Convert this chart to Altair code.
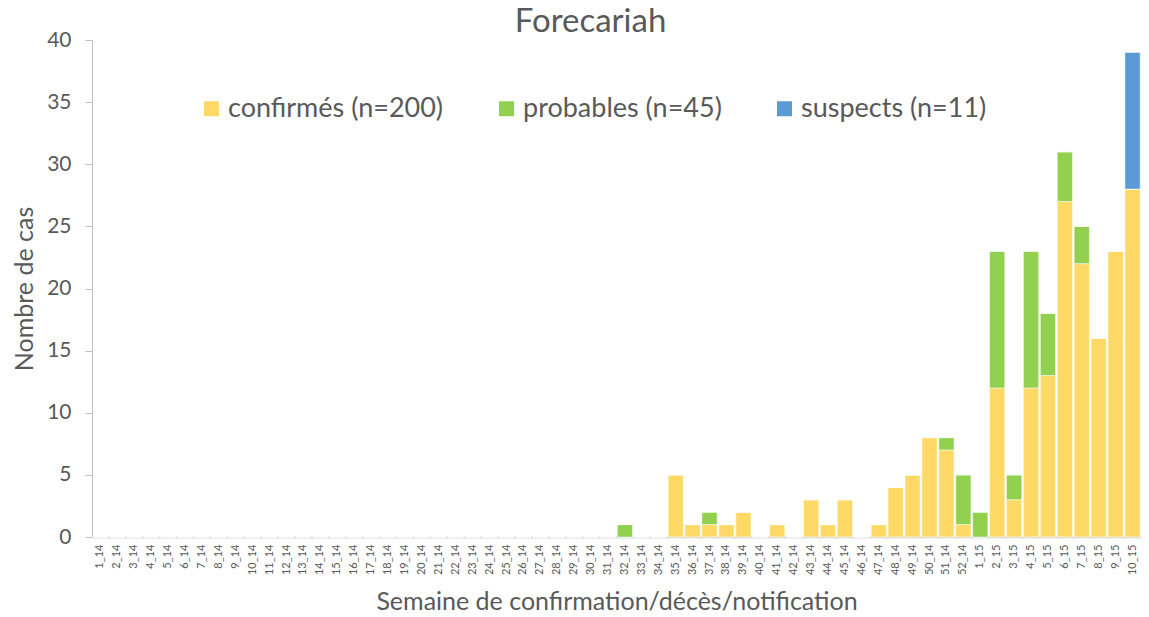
import altair as alt
import pandas as pd

weeks = [f"{i}_14" for i in range(1, 53)] + [f"{i}_15" for i in range(1, 11)]

# non-zero values by week
confirmes = {
    "35_14": 5, "36_14": 1, "37_14": 1, "38_14": 1, "39_14": 2, "41_14": 1,
    "43_14": 3, "44_14": 1, "45_14": 3, "47_14": 1, "48_14": 4, "49_14": 5,
    "50_14": 8, "51_14": 7, "52_14": 1, "2_15": 12, "3_15": 3, "4_15": 12,
    "5_15": 13, "6_15": 27, "7_15": 22, "8_15": 16, "9_15": 23, "10_15": 28,
}
probables = {
    "32_14": 1, "37_14": 1, "51_14": 1, "52_14": 4, "1_15": 2, "2_15": 11,
    "3_15": 2, "4_15": 11, "5_15": 5, "6_15": 4, "7_15": 3,
}
suspects = {"10_15": 11}

series = [
    ("confirmés (n=200)", confirmes, 0),
    ("probables (n=45)", probables, 1),
    ("suspects (n=11)", suspects, 2),
]
colors = ["#FFD966", "#92D050", "#5B9BD5"]

rows = []
for name, d, order in series:
    for w in weeks:
        rows.append({"semaine": w, "type": name, "cas": d.get(w, 0), "ordre": order})
df = pd.DataFrame(rows)

FONT = "Lato"
GRAY = "#595959"

chart = alt.Chart(df).mark_bar(stroke="white", strokeWidth=1, strokeOpacity=0.5).encode(
    x=alt.X("semaine:N", sort=weeks,
            scale=alt.Scale(paddingInner=0.1, paddingOuter=0.05),
            axis=alt.Axis(title="Semaine de confirmation/décès/notification",
                          labelAngle=-90, labelFontSize=11, labelColor=GRAY,
                          labelFont=FONT, ticks=False, domainColor="#D9D9D9",
                          domainWidth=2, labelPadding=7, titleFontSize=25,
                          titleFont=FONT, titleColor=GRAY, titleFontWeight="normal",
                          titlePadding=15, labelOverlap=False)),
    y=alt.Y("cas:Q", stack="zero",
            scale=alt.Scale(domain=[0, 40], nice=False),
            axis=alt.Axis(title="Nombre de cas", values=list(range(0, 41, 5)),
                          grid=False, domainColor="#BFBFBF", tickColor="#BFBFBF",
                          tickSize=7, labelFontSize=21, labelColor=GRAY,
                          labelFont=FONT, labelPadding=14, titleFontSize=25,
                          titleFont=FONT, titleColor=GRAY, titleFontWeight="normal",
                          titlePadding=9)),
    color=alt.Color("type:N",
                    scale=alt.Scale(domain=[s[0] for s in series], range=colors),
                    legend=alt.Legend(title=None, orient="none", direction="horizontal",
                                      legendX=106, legendY=55, symbolType="square",
                                      symbolSize=225, symbolStrokeWidth=0,
                                      labelFontSize=27, labelFont=FONT, labelColor=GRAY,
                                      columnPadding=49, labelLimit=400, labelOffset=3)),
    order=alt.Order("ordre:Q"),
).properties(
    width=1049,
    height=497,
    title=alt.TitleParams("Forecariah", fontSize=33, font=FONT, color=GRAY,
                          fontWeight="normal", dx=-26, dy=18, offset=8),
    autosize=alt.AutoSizeParams(type="none"),
    padding={"left": 84, "top": 32, "right": 0, "bottom": 80},
).configure_view(stroke=None)

chart.save("out.html", embed_options={"renderer": "svg", "actions": False})
